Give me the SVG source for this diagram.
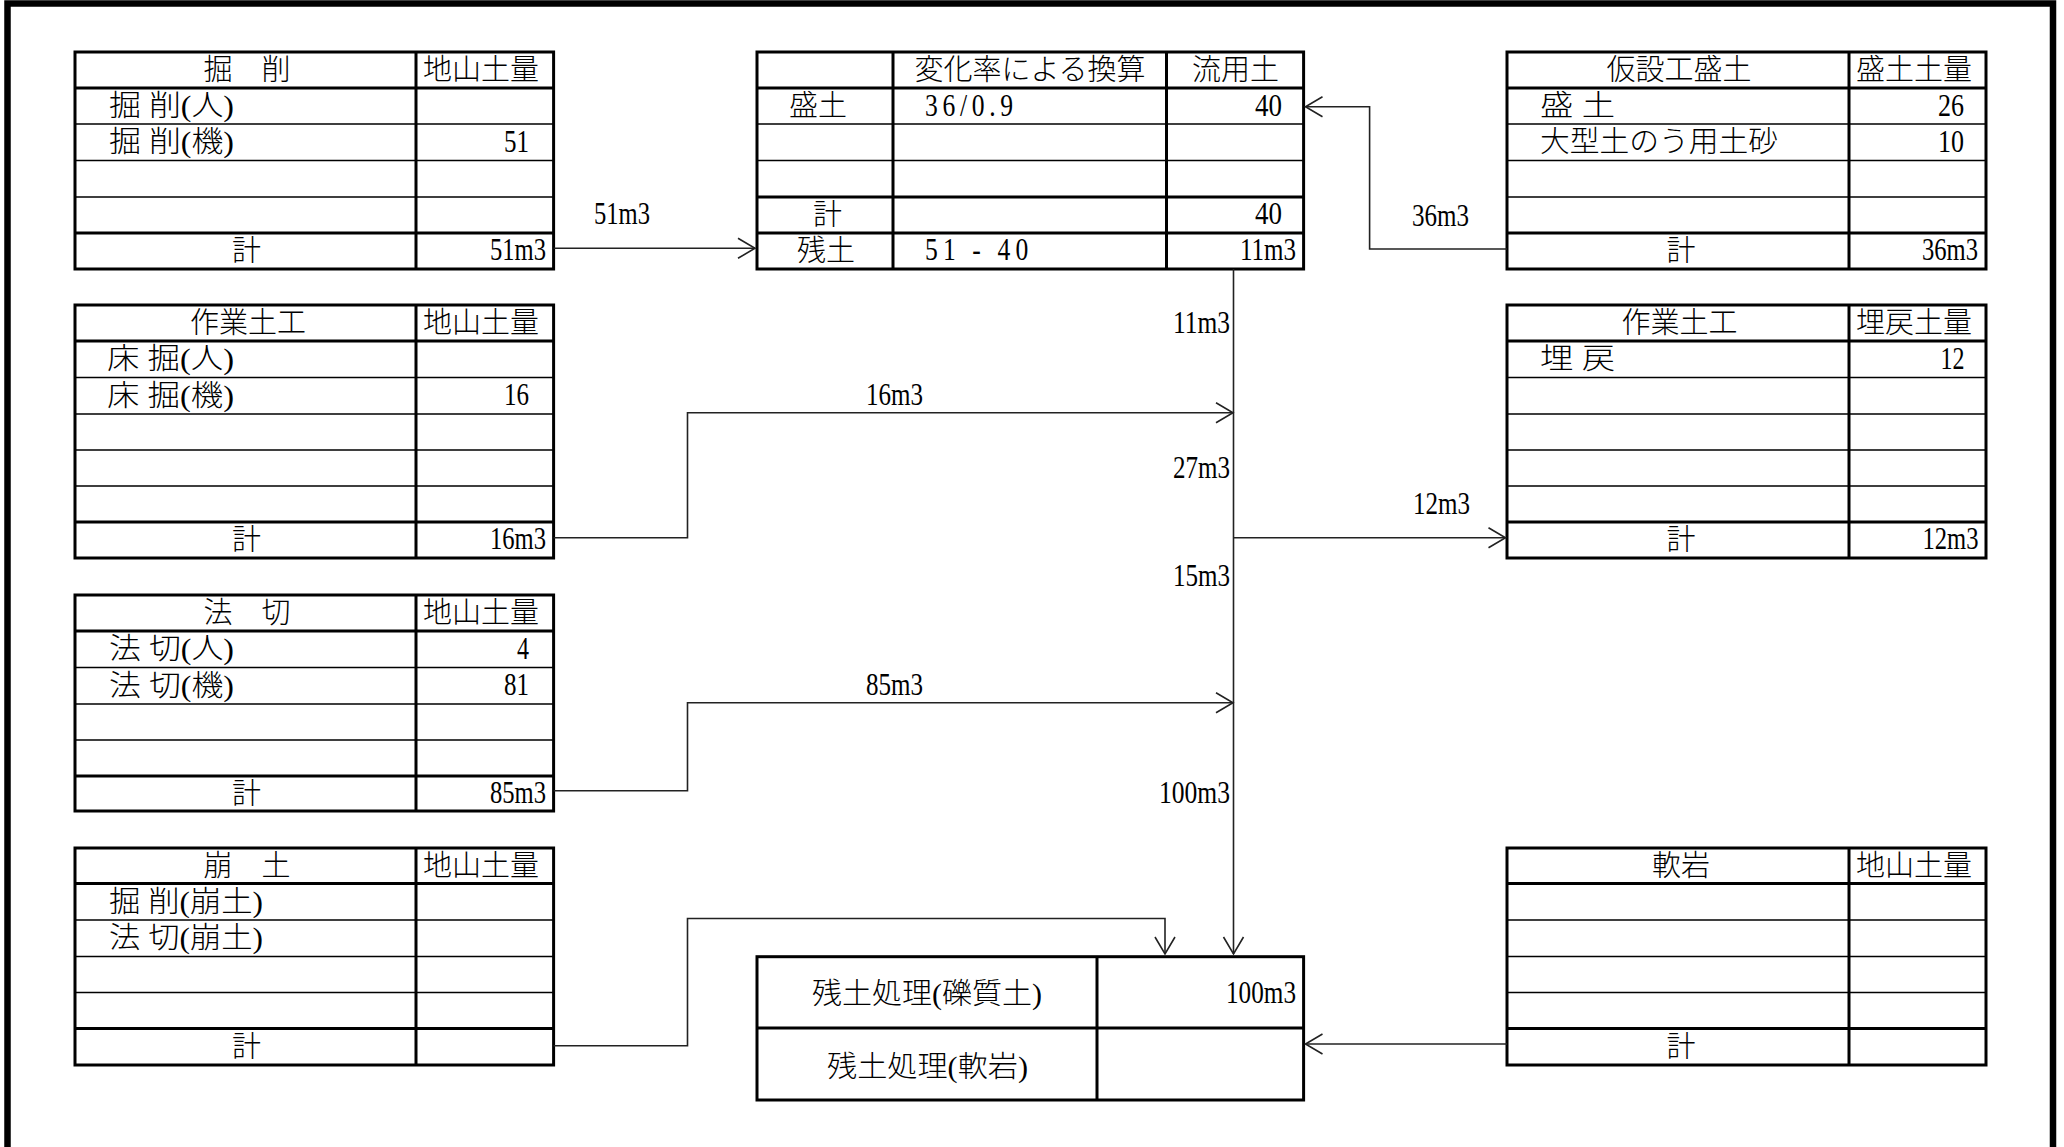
<svg xmlns="http://www.w3.org/2000/svg" width="2064" height="1147" viewBox="0 0 2064 1147">
<style>
.ob{fill:none;stroke:#000;stroke-width:3}
.tk{fill:none;stroke:#000;stroke-width:3}
.tn{fill:none;stroke:#000;stroke-width:1.3}
.c{fill:none;stroke:#222;stroke-width:1.6}
text{fill:#000}
.j{font-family:"Liberation Serif","Noto Sans CJK JP",serif;font-size:29px;font-weight:300}
.n{font-family:"Liberation Serif","Noto Sans CJK JP",serif;font-size:32px}
.m{text-anchor:middle}
.e{text-anchor:end}
</style>
<defs>
<marker id="ah" markerWidth="22" markerHeight="24" viewBox="-19 -12 22 24" refX="0" refY="0" orient="auto" markerUnits="userSpaceOnUse">
<path d="M-17,-10L0,0L-17,10" fill="none" stroke="#222" stroke-width="1.6"/>
</marker>
</defs>
<rect width="2064" height="1147" fill="#fff"/>
<path d="M7.5 1147V3.5H2053V1147" fill="none" stroke="#000" stroke-width="6.5"/>

<g id="t-kussaku">
<rect class="ob" x="75" y="52" width="478.6" height="217"/>
<path class="tk" d="M416 52V269M75 88H553.6M75 233H553.6"/>
<path class="tn" d="M75 124H553.6M75 160.5H553.6M75 197H553.6"/>
<text class="j m" x="247" y="80">掘　削</text>
<text class="j m" x="481" y="80">地山土量</text>
<text class="j" x="109" y="116" textLength="125" lengthAdjust="spacingAndGlyphs">掘 削(人)</text>
<text class="j" x="109" y="152" textLength="125" lengthAdjust="spacingAndGlyphs">掘 削(機)</text>
<text class="n e" x="529" y="151.5" textLength="25" lengthAdjust="spacingAndGlyphs">51</text>
<text class="j m" x="246.5" y="261">計</text>
<text class="n e" x="546" y="259.5" textLength="56" lengthAdjust="spacingAndGlyphs">51m3</text>
</g>

<g id="t-sagyo">
<rect class="ob" x="75" y="305" width="478.6" height="253"/>
<path class="tk" d="M416 305V558M75 341H553.6M75 522H553.6"/>
<path class="tn" d="M75 377.5H553.6M75 414H553.6M75 450H553.6M75 486H553.6"/>
<text class="j m" x="248" y="333">作業土工</text>
<text class="j m" x="481" y="333">地山土量</text>
<text class="j" x="107" y="369" textLength="127" lengthAdjust="spacingAndGlyphs">床 掘(人)</text>
<text class="j" x="107" y="405.5" textLength="127" lengthAdjust="spacingAndGlyphs">床 掘(機)</text>
<text class="n e" x="529" y="405" textLength="25" lengthAdjust="spacingAndGlyphs">16</text>
<text class="j m" x="246.5" y="550">計</text>
<text class="n e" x="546" y="548.5" textLength="56" lengthAdjust="spacingAndGlyphs">16m3</text>
</g>

<g id="t-norikiri">
<rect class="ob" x="75" y="595" width="478.6" height="216"/>
<path class="tk" d="M416 595V811M75 631H553.6M75 776H553.6"/>
<path class="tn" d="M75 667.5H553.6M75 704H553.6M75 740H553.6"/>
<text class="j m" x="247" y="623">法　切</text>
<text class="j m" x="481" y="623">地山土量</text>
<text class="j" x="109" y="659" textLength="125" lengthAdjust="spacingAndGlyphs">法 切(人)</text>
<text class="n e" x="529" y="658.5" textLength="12" lengthAdjust="spacingAndGlyphs">4</text>
<text class="j" x="109" y="695.5" textLength="125" lengthAdjust="spacingAndGlyphs">法 切(機)</text>
<text class="n e" x="529" y="695" textLength="25" lengthAdjust="spacingAndGlyphs">81</text>
<text class="j m" x="246.5" y="804">計</text>
<text class="n e" x="546" y="802.5" textLength="56" lengthAdjust="spacingAndGlyphs">85m3</text>
</g>

<g id="t-houdo">
<rect class="ob" x="75" y="848" width="478.6" height="217"/>
<path class="tk" d="M416 848V1065M75 883.5H553.6M75 1028.5H553.6"/>
<path class="tn" d="M75 920H553.6M75 956.5H553.6M75 992.5H553.6"/>
<text class="j m" x="247" y="876">崩　土</text>
<text class="j m" x="481" y="876">地山土量</text>
<text class="j" x="109" y="911.5" textLength="154" lengthAdjust="spacingAndGlyphs">掘 削(崩土)</text>
<text class="j" x="109" y="948" textLength="154" lengthAdjust="spacingAndGlyphs">法 切(崩土)</text>
<text class="j m" x="246.5" y="1056.5">計</text>
</g>

<g id="t-henka">
<rect class="ob" x="757" y="52" width="546.6" height="217"/>
<path class="tk" d="M893 52V269M1166.5 52V269M757 88H1303.6M757 197H1303.6M757 233H1303.6"/>
<path class="tn" d="M757 124H1303.6M757 160.5H1303.6"/>
<text class="j m" x="1030" y="80">変化率による換算</text>
<text class="j m" x="1235.6" y="80">流用土</text>
<text class="j m" x="818" y="116">盛土</text>
<text class="n" transform="translate(925 115.5) scale(0.8 1)" x="0" y="0" textLength="110" lengthAdjust="spacing">36/0.9</text>
<text class="n e" x="1282" y="115.5" textLength="27" lengthAdjust="spacingAndGlyphs">40</text>
<text class="j m" x="827.5" y="225">計</text>
<text class="n e" x="1282" y="224" textLength="27" lengthAdjust="spacingAndGlyphs">40</text>
<text class="j m" x="826" y="261">残土</text>
<text class="n" transform="translate(925 259.5) scale(0.8 1)" x="0" y="0" textLength="129" lengthAdjust="spacing">51 - 40</text>
<text class="n e" x="1296" y="259.5" textLength="56" lengthAdjust="spacingAndGlyphs">11m3</text>
</g>

<g id="t-kasetsu">
<rect class="ob" x="1507" y="52" width="479" height="217"/>
<path class="tk" d="M1849 52V269M1507 88H1986M1507 233H1986"/>
<path class="tn" d="M1507 124H1986M1507 160.5H1986M1507 197H1986"/>
<text class="j m" x="1679" y="80">仮設工盛土</text>
<text class="j m" x="1914" y="80">盛土土量</text>
<text class="j" x="1540" y="116" textLength="75" lengthAdjust="spacingAndGlyphs">盛 土</text>
<text class="n e" x="1964" y="115.5" textLength="26" lengthAdjust="spacingAndGlyphs">26</text>
<text class="j" x="1540" y="152" textLength="238" lengthAdjust="spacingAndGlyphs">大型土のう用土砂</text>
<text class="n e" x="1964" y="151.5" textLength="26" lengthAdjust="spacingAndGlyphs">10</text>
<text class="j m" x="1681" y="261">計</text>
<text class="n e" x="1978" y="259.5" textLength="56" lengthAdjust="spacingAndGlyphs">36m3</text>
</g>

<g id="t-umemodoshi">
<rect class="ob" x="1507" y="305" width="479" height="253"/>
<path class="tk" d="M1849 305V558M1507 341H1986M1507 522H1986"/>
<path class="tn" d="M1507 377.5H1986M1507 414H1986M1507 450H1986M1507 486H1986"/>
<text class="j m" x="1679.5" y="333">作業土工</text>
<text class="j m" x="1914" y="333">埋戻土量</text>
<text class="j" x="1540" y="369" textLength="75" lengthAdjust="spacingAndGlyphs">埋 戻</text>
<text class="n e" x="1964.5" y="368.5" textLength="24" lengthAdjust="spacingAndGlyphs">12</text>
<text class="j m" x="1681" y="550">計</text>
<text class="n e" x="1978.5" y="548.5" textLength="56" lengthAdjust="spacingAndGlyphs">12m3</text>
</g>

<g id="t-nanganu">
<rect class="ob" x="1507" y="848" width="479" height="217"/>
<path class="tk" d="M1849 848V1065M1507 883.5H1986M1507 1028.5H1986"/>
<path class="tn" d="M1507 920H1986M1507 956.5H1986M1507 992.5H1986"/>
<text class="j m" x="1681" y="876">軟岩</text>
<text class="j m" x="1914" y="876">地山土量</text>
<text class="j m" x="1681" y="1056.5">計</text>
</g>

<g id="t-zando">
<rect class="ob" x="757" y="956.7" width="546.6" height="143.3"/>
<path class="tk" d="M1097 956.7V1100M757 1028H1303.6"/>
<text class="j m" x="927" y="1004" textLength="230" lengthAdjust="spacingAndGlyphs">残土処理(礫質土)</text>
<text class="n e" x="1296" y="1002.5" textLength="70" lengthAdjust="spacingAndGlyphs">100m3</text>
<text class="j m" x="927.5" y="1077" textLength="201" lengthAdjust="spacingAndGlyphs">残土処理(軟岩)</text>
</g>

<g id="connectors">
<path class="c" d="M553.6 248.3H755" marker-end="url(#ah)"/>
<path class="c" d="M1507 249H1369.6V106.7H1305.5" marker-end="url(#ah)"/>
<path class="c" d="M1233.5 269V954" marker-end="url(#ah)"/>
<path class="c" d="M553.6 537.7H687.5V412.7H1233" marker-end="url(#ah)"/>
<path class="c" d="M1233.5 537.7H1505.5" marker-end="url(#ah)"/>
<path class="c" d="M553.6 790.7H687.5V702.7H1233" marker-end="url(#ah)"/>
<path class="c" d="M553.6 1045.7H687.5V918.5H1165V954" marker-end="url(#ah)"/>
<path class="c" d="M1507 1044H1305.5" marker-end="url(#ah)"/>
<text class="n" x="594" y="224" textLength="56" lengthAdjust="spacingAndGlyphs">51m3</text>
<text class="n" x="1412" y="226" textLength="57" lengthAdjust="spacingAndGlyphs">36m3</text>
<text class="n e" x="1230" y="333" textLength="57" lengthAdjust="spacingAndGlyphs">11m3</text>
<text class="n m" x="894.5" y="405" textLength="57" lengthAdjust="spacingAndGlyphs">16m3</text>
<text class="n e" x="1230" y="478" textLength="57" lengthAdjust="spacingAndGlyphs">27m3</text>
<text class="n" x="1413" y="514" textLength="57" lengthAdjust="spacingAndGlyphs">12m3</text>
<text class="n e" x="1230" y="586" textLength="57" lengthAdjust="spacingAndGlyphs">15m3</text>
<text class="n m" x="894.5" y="695" textLength="57" lengthAdjust="spacingAndGlyphs">85m3</text>
<text class="n e" x="1230" y="803" textLength="71" lengthAdjust="spacingAndGlyphs">100m3</text>
</g>
</svg>
